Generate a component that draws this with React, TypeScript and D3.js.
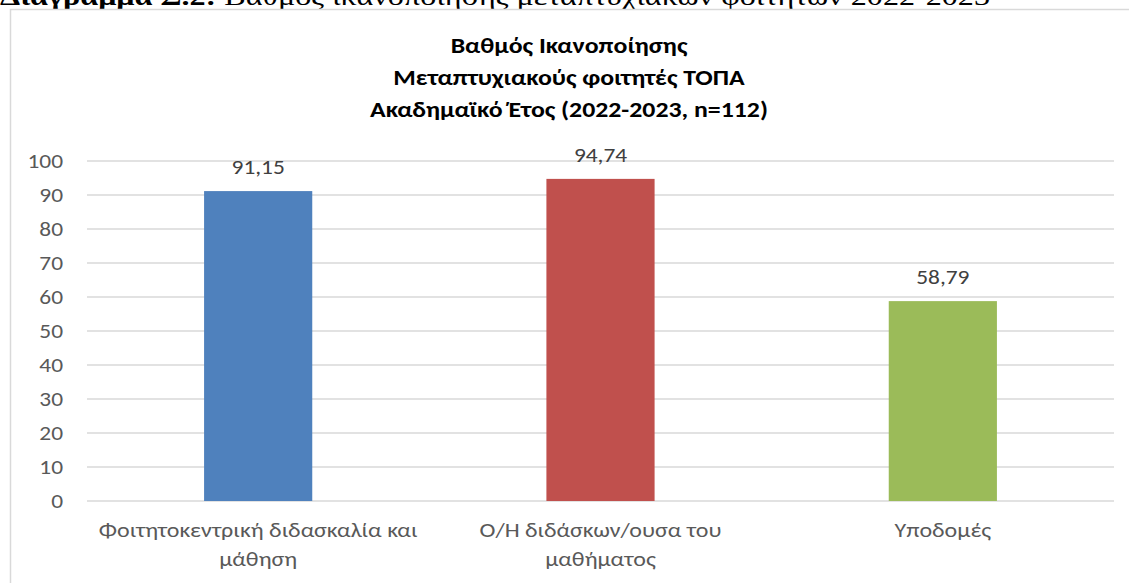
import React, { useEffect, useRef } from "react";
import * as d3 from "d3";

const categories: string[][] = [
  ["Φοιτητοκεντρική διδασκαλία και", "μάθηση"],
  ["Ο/Η διδάσκων/ουσα του", "μαθήματος"],
  ["Υποδομές"],
];
const values = [91.15, 94.74, 58.79];
const barColors = ["#4F81BD", "#C0504D", "#9BBB59"];
const yTicks = [0, 10, 20, 30, 40, 50, 60, 70, 80, 90, 100];
const titleLines = [
  "Βαθμός Ικανοποίησης",
  "Μεταπτυχιακούς φοιτητές ΤΟΠΑ",
  "Ακαδημαϊκό Έτος (2022-2023, n=112)",
];

const W = 1129;
const H = 583;
const font = "Calibri, Carlito, Lato, sans-serif";
const SX = 1.2; // the source image is stretched sideways a bit

const App: React.FC = () => {
  const svgRef = useRef<SVGSVGElement | null>(null);

  useEffect(() => {
    const svg = d3.select(svgRef.current);
    svg.selectAll("*").remove();

    const margin = { left: 87, right: 15, top: 161, bottom: 82 };

    const x = d3
      .scaleBand()
      .domain(categories.map((_, i) => String(i)))
      .range([margin.left, W - margin.right])
      .paddingInner(0.684)
      .paddingOuter(0.342);

    const y = d3
      .scaleLinear()
      .domain([0, 100])
      .range([H - margin.bottom, margin.top]);

    const at = (px: number, py: number) =>
      `translate(${px},${py}) scale(${SX},1)`;

    svg.append("rect").attr("width", W).attr("height", H).attr("fill", "#fff");

    // caption above the chart box (cut off at the top)
    const cap = svg
      .append("text")
      .attr("x", 0)
      .attr("y", 5)
      .attr("font-family", "'Liberation Serif', 'Times New Roman', serif")
      .attr("font-size", 26)
      .attr("fill", "#000")
      .attr("textLength", 990)
      .attr("lengthAdjust", "spacingAndGlyphs");
    cap.append("tspan").attr("font-weight", "bold").text("Διάγραμμα Σ.2:");
    cap.append("tspan").text(" Βαθμός ικανοποίησης μεταπτυχιακών φοιτητών 2022-2023");

    // chart border
    svg
      .append("rect")
      .attr("x", 10.5)
      .attr("y", 9.5)
      .attr("width", W + 20)
      .attr("height", H + 20)
      .attr("fill", "none")
      .attr("stroke", "#d9d9d9")
      .attr("stroke-width", 1.5);

    // title
    svg
      .append("g")
      .selectAll("text")
      .data(titleLines)
      .join("text")
      .attr("transform", (_, i) => at(569, 53 + i * 32))
      .attr("text-anchor", "middle")
      .attr("font-family", font)
      .attr("font-size", 21.5)
      .attr("font-weight", "bold")
      .attr("fill", "#000")
      .text((d) => d);

    // gridlines
    svg
      .append("g")
      .selectAll("line")
      .data(yTicks)
      .join("line")
      .attr("x1", margin.left)
      .attr("x2", W - margin.right)
      .attr("y1", (d) => y(d))
      .attr("y2", (d) => y(d))
      .attr("stroke", "#d9d9d9")
      .attr("stroke-width", 1.3);

    // y tick labels
    svg
      .append("g")
      .selectAll("text")
      .data(yTicks)
      .join("text")
      .attr("transform", (d) => at(63, y(d)))
      .attr("dy", "0.35em")
      .attr("text-anchor", "end")
      .attr("font-family", font)
      .attr("font-size", 19.5)
      .attr("fill", "#595959")
      .text((d) => d);

    // bars
    svg
      .append("g")
      .selectAll("rect")
      .data(values)
      .join("rect")
      .attr("x", (_, i) => x(String(i)) || 0)
      .attr("y", (d) => y(d))
      .attr("width", x.bandwidth())
      .attr("height", (d) => y(0) - y(d))
      .attr("fill", (_, i) => barColors[i]);

    // value labels
    svg
      .append("g")
      .selectAll("text")
      .data(values)
      .join("text")
      .attr("transform", (d, i) =>
        at((x(String(i)) || 0) + x.bandwidth() / 2, y(d) - 17)
      )
      .attr("text-anchor", "middle")
      .attr("font-family", font)
      .attr("font-size", 19.5)
      .attr("fill", "#404040")
      .text((d) => d.toFixed(2).replace(".", ","));

    // category labels
    const cat = svg
      .append("g")
      .selectAll("text")
      .data(categories)
      .join("text")
      .attr("transform", (_, i) =>
        at((x(String(i)) || 0) + x.bandwidth() / 2, 537)
      )
      .attr("text-anchor", "middle")
      .attr("font-family", font)
      .attr("font-size", 20)
      .attr("fill", "#595959");
    cat
      .selectAll("tspan")
      .data((d) => d)
      .join("tspan")
      .attr("x", 0)
      .attr("dy", (_, i) => (i === 0 ? 0 : 29))
      .text((d) => d);
  }, []);

  return (
    <svg
      ref={svgRef}
      width={W}
      height={H}
      style={{ position: "absolute", left: 0, top: 0 }}
    ></svg>
  );
};

export default App;
